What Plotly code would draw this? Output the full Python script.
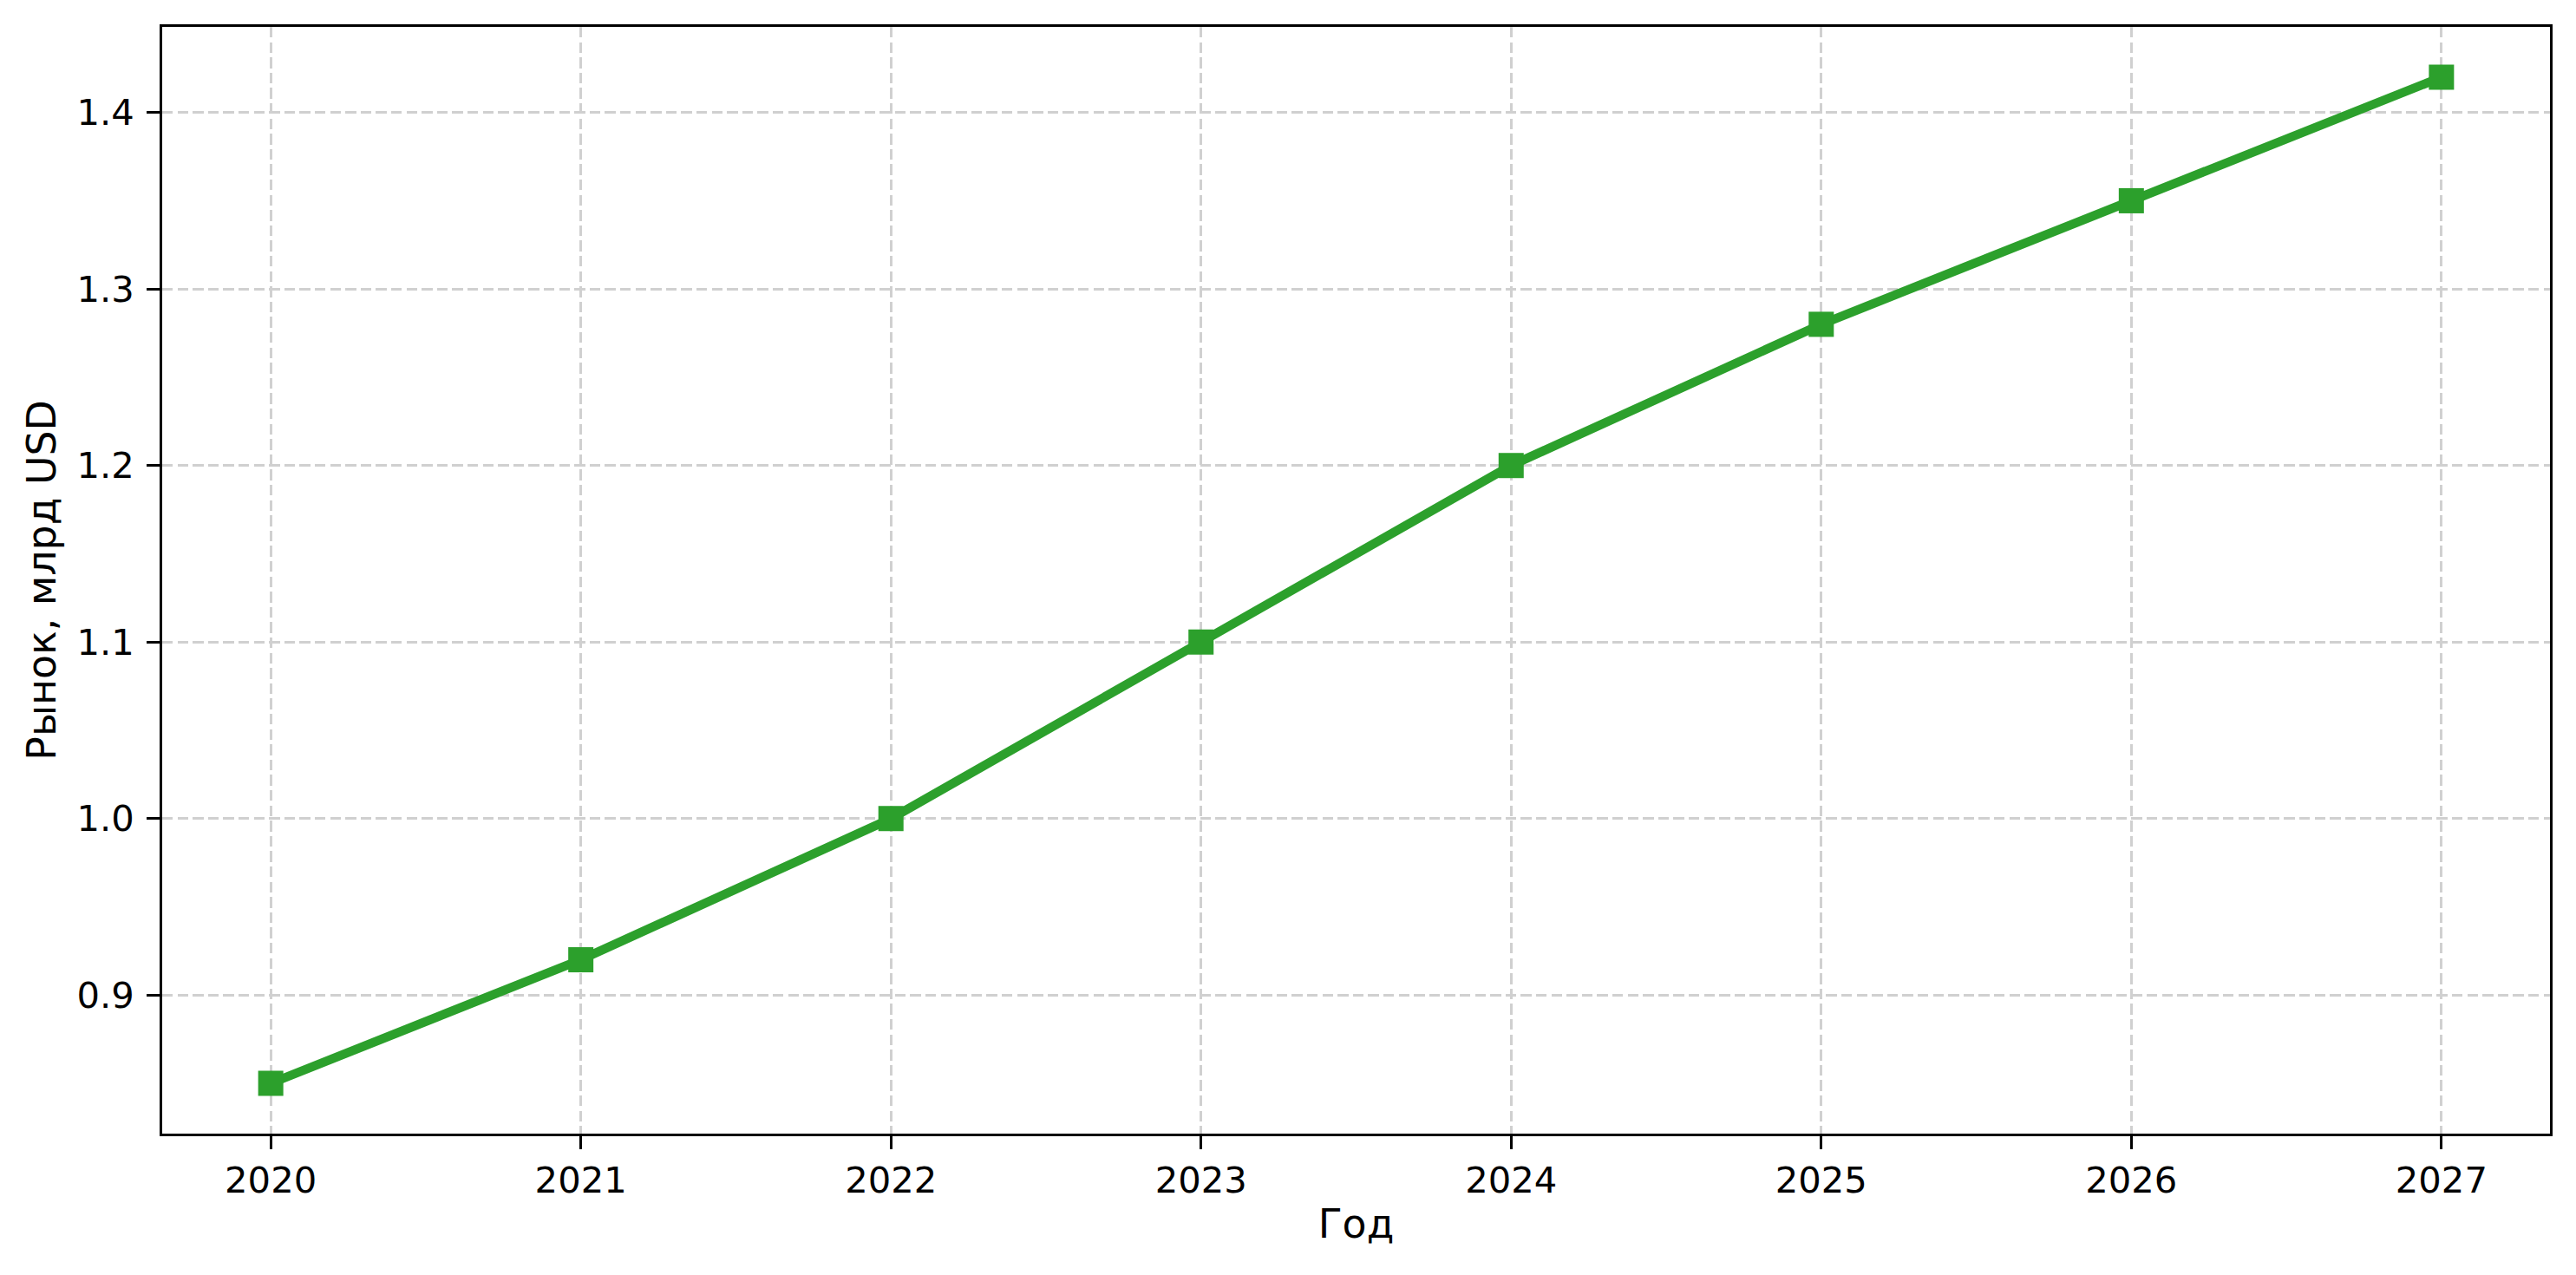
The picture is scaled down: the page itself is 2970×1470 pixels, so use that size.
import plotly.graph_objects as go

years = [2020, 2021, 2022, 2023, 2024, 2025, 2026, 2027]
market = [0.85, 0.92, 1.00, 1.10, 1.20, 1.28, 1.35, 1.42]
y_ticks = [0.9, 1.0, 1.1, 1.2, 1.3, 1.4]
x_title = "Год"
y_title = "Рынок, млрд USD"

fig = go.Figure()
fig.add_trace(go.Scatter(
    x=years, y=market, mode="lines+markers",
    line=dict(color="#2ca02c", width=10.4),
    marker=dict(symbol="square", size=29, color="#2ca02c", line=dict(width=0)),
    showlegend=False,
))

grid = dict(showgrid=True, gridcolor="#d0d0d0", gridwidth=3.3, griddash="12.3px,5.3px")
axis_common = dict(
    showline=True, linecolor="black", linewidth=3.3, mirror=True,
    ticks="outside", ticklen=14.6, tickwidth=3.3, tickcolor="black",
    tickfont=dict(family="DejaVu Sans", size=41.7, color="black"),
    zeroline=False,
    **grid,
)

fig.update_xaxes(
    range=[2019.65, 2027.35], tickmode="array", tickvals=years,
    ticktext=[str(y) for y in years],
    title=dict(text=x_title, font=dict(family="DejaVu Sans", size=45.8, color="black"), standoff=12),
    ticklabelstandoff=0,
    **axis_common,
)
fig.update_yaxes(
    range=[0.8215, 1.4485], tickmode="array", tickvals=y_ticks,
    ticktext=[f"{v:.1f}" for v in y_ticks],
    title=dict(text=y_title, font=dict(family="DejaVu Sans", size=45.8, color="black"), standoff=10),
    ticklabelstandoff=6,
    **axis_common,
)

fig.update_layout(
    width=2970, height=1470,
    margin=dict(l=187, r=30, t=31, b=163, autoexpand=False),
    plot_bgcolor="white", paper_bgcolor="white",
    font=dict(family="DejaVu Sans", color="black"),
)

fig.write_html(
    "out.html",
    config={"displayModeBar": False},
    post_script="document.body.style.margin='0';document.body.style.padding='0';",
)
